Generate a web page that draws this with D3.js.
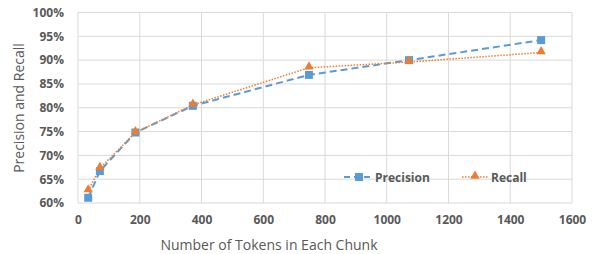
<!DOCTYPE html>
<html><head><meta charset="utf-8">
<script src="https://cdn.jsdelivr.net/npm/d3@7"></script>
<style>body{margin:0;background:#fff}svg{display:block}text{font-family:"Open Sans","Liberation Sans",sans-serif}</style>
</head><body><svg id="c" width="592" height="254"></svg>
<script>
const tokens = [33, 71, 186, 372, 748, 1072, 1500];
const precision = [0.611, 0.667, 0.748, 0.804, 0.869, 0.900, 0.942];
const recall = [0.626, 0.673, 0.748, 0.806, 0.884, 0.896, 0.916];
const xTicks = [0, 200, 400, 600, 800, 1000, 1200, 1400, 1600];
const yTicks = [0.60, 0.65, 0.70, 0.75, 0.80, 0.85, 0.90, 0.95, 1.00];
const seriesNames = ["Precision", "Recall"];

const svg = d3.select("#c");
const x = d3.scaleLinear().domain([0, 1600]).range([78, 572]);
const y = d3.scaleLinear().domain([0.6, 1.0]).range([203, 12.5]);
const grid = "#d9d9d9", txt = "#595959";
const blue = "#5b9bd5", orange = "#ed7d31";

// gridlines
svg.append("g").selectAll("line").data(yTicks).join("line")
  .attr("x1", 78).attr("x2", 572).attr("y1", d => y(d)).attr("y2", d => y(d))
  .attr("stroke", grid).attr("stroke-width", 1);
svg.append("g").selectAll("line").data(xTicks).join("line")
  .attr("y1", y(0.6)).attr("y2", y(1.0)).attr("x1", d => x(d)).attr("x2", d => x(d))
  .attr("stroke", grid).attr("stroke-width", 1);

// axes
const xa = svg.append("g").attr("transform", `translate(0,${y(0.6)})`)
  .call(d3.axisBottom(x).tickValues(xTicks).tickSize(0).tickPadding(12).tickFormat(d3.format("d")));
const ya = svg.append("g").attr("transform", `translate(${x(0)},0)`)
  .call(d3.axisLeft(y).tickValues(yTicks).tickSize(0).tickPadding(14).tickFormat(d3.format(".0%")));
[xa, ya].forEach(a => {
  a.select(".domain").remove();
  a.selectAll("text").attr("fill", txt).attr("font-size", 12).attr("font-weight", "bold")
   .attr("font-family", "'Open Sans','Liberation Sans',sans-serif");
});

// axis titles
svg.append("text").attr("x", 269).attr("y", 250).attr("text-anchor", "middle")
  .attr("fill", txt).attr("font-size", 14).text("Number of Tokens in Each Chunk");
svg.append("text").attr("transform", `translate(24,108) rotate(-90)`).attr("text-anchor", "middle")
  .attr("fill", txt).attr("font-size", 14).text("Precision and Recall");

const line = d3.line().x(d => x(d[0])).y(d => y(d[1]));
const pData = tokens.map((t, i) => [t, precision[i]]);
const rData = tokens.map((t, i) => [t, recall[i]]);

svg.append("path").datum(pData).attr("d", line).attr("fill", "none")
  .attr("stroke", blue).attr("stroke-width", 2).attr("stroke-dasharray", "7,4");
svg.append("path").datum(rData).attr("d", line).attr("fill", "none")
  .attr("stroke", orange).attr("stroke-width", 1.5).attr("stroke-dasharray", "1.5,1.5");

const tri = d3.symbol().type(d3.symbolTriangle).size(38);
svg.append("g").selectAll("rect").data(pData).join("rect")
  .attr("x", d => x(d[0]) - 4).attr("y", d => y(d[1]) - 4).attr("width", 8).attr("height", 8)
  .attr("fill", blue);
svg.append("g").selectAll("path").data(rData).join("path")
  .attr("d", tri).attr("transform", d => `translate(${x(d[0])},${y(d[1]) - 1})`).attr("fill", orange);

// legend
const lg = svg.append("g");
lg.append("line").attr("x1", 344).attr("x2", 373).attr("y1", 177).attr("y2", 177)
  .attr("stroke", blue).attr("stroke-width", 2).attr("stroke-dasharray", "6,4");
lg.append("rect").attr("x", 355).attr("y", 173).attr("width", 8).attr("height", 8).attr("fill", blue);
lg.append("text").attr("x", 375).attr("y", 181.5).attr("fill", txt).attr("font-size", 12)
  .attr("font-weight", "bold").text(seriesNames[0]);
lg.append("line").attr("x1", 462).attr("x2", 489).attr("y1", 177).attr("y2", 177)
  .attr("stroke", orange).attr("stroke-width", 1.5).attr("stroke-dasharray", "1.5,1.5");
lg.append("path").attr("d", tri).attr("transform", "translate(475,176)").attr("fill", orange);
lg.append("text").attr("x", 491).attr("y", 181.5).attr("fill", txt).attr("font-size", 12)
  .attr("font-weight", "bold").text(seriesNames[1]);
</script></body></html>
